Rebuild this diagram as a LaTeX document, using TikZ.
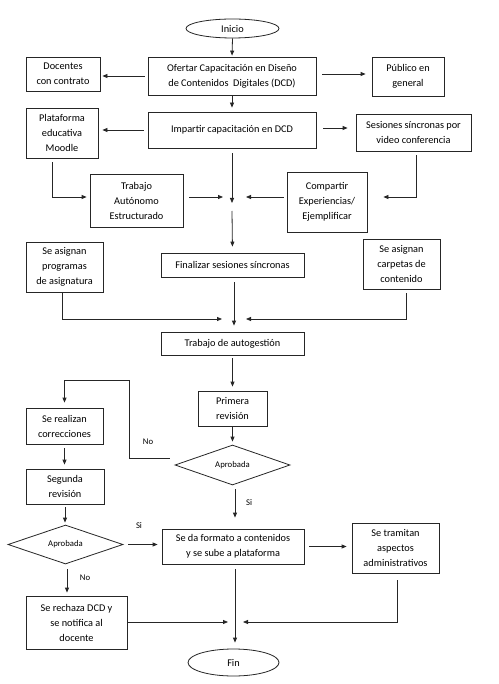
\documentclass[tikz,border=0pt]{standalone}
\usepackage{fontspec}
\setmainfont{Carlito}
\usetikzlibrary{arrows.meta,shapes.geometric}
\begin{document}
\begin{tikzpicture}[x=1pt,y=-1pt,
 font=\fontsize{10.3}{15}\selectfont,
 sz/.style 2 args={minimum width=#1pt,minimum height=#2pt},
 box/.style={draw=black!85, line width=0.8pt, align=center, inner sep=0pt},
 oval/.style={draw=black!85, line width=0.8pt, ellipse, inner sep=0pt},
 dec/.style={draw=black!85, line width=0.8pt, diamond, aspect=2.9, inner sep=0pt, font=\fontsize{8.7}{10}\selectfont},
 arr/.style={draw=black!85, line width=0.8pt, -{Triangle[length=5pt,width=4pt]}},
 lbl/.style={font=\fontsize{8.7}{10}\selectfont, inner sep=0pt}
]
\useasboundingbox (0,0) rectangle (498,684);
\fill[white] (0,0) rectangle (498,684);

% nodes
\node[oval, sz={93}{19}] (inicio) at (232.5,28.5) {Inicio};
\node[box, sz={168}{38}] (ofertar) at (232,76) {Ofertar Capacitación en Diseño\\de Contenidos\ \ Digitales (DCD)};
\node[box, sz={74}{34}] (docentes) at (63,74) {Docentes\\con contrato};
\node[box, sz={72}{39}] (publico) at (408,76.5) {Público en\\general};
\node[box, sz={168}{36}] (impartir) at (232,130) {Impartir capacitación en DCD};
\node[box, sz={72}{50}] (plataforma) at (62,133) {Plataforma\\educativa\\Moodle};
\node[box, sz={115}{37}] (sesiones) at (413.5,132.5) {Sesiones síncronas por\\video conferencia};
\node[box, sz={93}{53}] (trabajoA) at (136.5,200.5) {Trabajo\\Autónomo\\Estructurado};
\node[box, sz={80}{60}] (compartir) at (327,202) {Compartir\\Experiencias/\\Ejemplificar};
\node[box, sz={77}{50}] (programas) at (64.5,267) {Se asignan\\programas\\de asignatura};
\node[box, sz={143}{24}] (finalizar) at (232.5,265) {Finalizar sesiones síncronas};
\node[box, sz={77}{50}] (carpetas) at (401.5,264) {Se asignan\\carpetas de\\contenido};
\node[box, sz={143}{23}] (autogestion) at (232.5,343.5) {Trabajo de autogestión};
\node[box, sz={69}{35}] (primera) at (232.5,408.5) {Primera\\revisión};
\node[dec, sz={115}{40}] (dia1) at (232.5,465) {Aprobada};
\node[box, sz={77}{36}] (realizan) at (64.5,426) {Se realizan\\correcciones};
\node[box, sz={78}{35}] (segunda) at (65,486.5) {Segunda\\revisión};
\node[dec, sz={115}{39}] (dia2) at (65.5,544.5) {Aprobada};
\node[box, sz={142}{35}] (formato) at (233,546.5) {Se da formato a contenidos\\y se sube a plataforma};
\node[box, sz={87}{50}] (tramitan) at (395.5,548) {Se tramitan\\aspectos\\administrativos};
\node[box, sz={101}{53}] (rechaza) at (76.5,622.5) {Se rechaza DCD y\\se notifica al\\docente};
\node[oval, sz={91}{27}] (fin) at (233.5,662.5) {Fin};

% labels
\node[lbl] (no1) at (148,442) {No};
\node[lbl] (si1) at (249,503) {Si};
\node[lbl] (si2) at (139,526) {Si};
\node[lbl] (no2) at (85,578) {No};

% junctions
\coordinate (j1) at (232,197);
\coordinate (j1in) at (232,203);
\coordinate (j1out) at (232,211);
\coordinate (j2) at (234,319);
\coordinate (j3) at (235,622);
\coordinate (nc) at (129,380);

% connectors
\draw[arr, shorten >=1pt] (inicio.south) -- (ofertar.north);
\draw[arr, shorten <=3pt, shorten >=2pt] (ofertar.west) -- (ofertar.west -| docentes.east);
\draw[arr, shorten <=6pt, shorten >=6pt] ([yshift=2pt]ofertar.east) -- ([yshift=2pt]ofertar.east -| publico.west);
\draw[arr, shorten >=4pt] (ofertar.south) -- (impartir.north);
\draw[arr, shorten <=4pt, shorten >=4pt] (impartir.west) -- (impartir.west -| plataforma.east);
\draw[arr, shorten <=7pt, shorten >=8pt] ([yshift=2pt]impartir.east) -- ([yshift=2pt]impartir.east -| sesiones.west);
\draw[arr, shorten <=5pt] (impartir.south) -- (j1in);
\draw[arr, shorten >=6pt] (j1out) -- (finalizar.north);
\draw[arr, shorten <=4pt, shorten >=3pt] ([xshift=-10pt]plataforma.south) |- ([yshift=3.5pt]trabajoA.west);
\draw[arr, shorten <=6pt, shorten >=9pt] ([yshift=3.5pt]trabajoA.east) -- (j1);
\draw[arr, shorten <=3pt, shorten >=14pt] (compartir.west |- j1) -- (j1);
\draw[arr, shorten <=4pt, shorten >=16pt] ([xshift=2.5pt]sesiones.south) |- (compartir.east |- j1);
\draw[arr, shorten <=1pt, shorten >=12pt] ([xshift=-2.5pt]programas.south) |- (j2);
\draw[arr, shorten <=4pt, shorten >=12pt] ([xshift=4.5pt]carpetas.south) |- (j2);
\draw[arr, shorten <=5pt, shorten >=6pt] ([xshift=1.5pt]finalizar.south) -- ([xshift=1.5pt]autogestion.north);
\draw[arr, shorten <=3pt, shorten >=4pt] (autogestion.south) -- (primera.north);
\draw[arr, shorten <=1pt, shorten >=3pt] (primera.south) -- (dia1.north);
\draw[arr, shorten >=5pt] ([shift={(-5,-7)}]dia1.west) -| (nc) -| (realizan.north);
\draw[arr, shorten <=4pt, shorten >=4pt] (realizan.south) -- (realizan.south |- segunda.north);
\draw[arr, shorten <=3pt, shorten >=2pt] (segunda.south) -- (segunda.south |- dia2.north);
\draw[arr, shorten <=5pt, shorten >=4pt] (dia2.east) -- (dia2.east -| formato.west);
\draw[arr, shorten <=4pt, shorten >=11pt] ([xshift=2.5pt]dia1.south) -- ([xshift=2.5pt]dia1.south |- formato.north);
\draw[arr, shorten <=5pt, shorten >=5pt] (formato.east) -- (formato.east -| tramitan.west);
\draw[arr, shorten <=5pt, shorten >=3pt] ([xshift=1.5pt]dia2.south) -- ([xshift=1.5pt]dia2.south |- rechaza.north);
\draw[arr, shorten <=1pt, shorten >=7pt] (rechaza.east |- j3) -- (j3);
\draw[arr, shorten <=5pt, shorten >=6pt] ([xshift=2pt]formato.south) -- ([xshift=1.5pt]fin.north);
\draw[arr, shorten <=7pt, shorten >=8pt] ([xshift=1.5pt]tramitan.south) |- (j3);
\end{tikzpicture}
\end{document}
